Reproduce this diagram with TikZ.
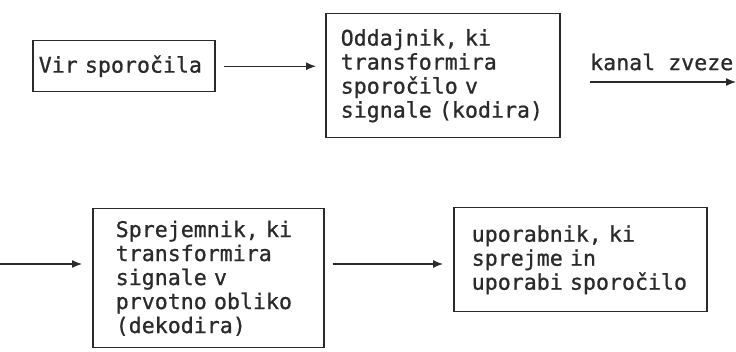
\documentclass[tikz,border=0pt]{standalone}
\usepackage{fontspec}
\newfontfamily\dmono[FakeBold=0.8]{DejaVu Sans Mono}
\usetikzlibrary{arrows.meta}
\definecolor{ink}{HTML}{2A2A2A}
\tikzset{
  box/.style={draw=ink, line width=1.5pt, rectangle, anchor=north west, align=left,
    inner ysep=0pt, text=ink, font=\dmono\fontsize{21.6}{24}\selectfont},
  conn/.style={draw=ink, line width=1.3pt, -{Latex[length=10pt,width=8pt]}},
  lbl/.style={text=ink, font=\dmono\fontsize{21.6}{24}\selectfont, inner sep=0pt}
}
\begin{document}
\begin{tikzpicture}[x=1pt,y=-1pt]
\useasboundingbox (0,0) rectangle (736,352);
\node[box, inner xsep=6pt, text width=170pt, minimum height=51pt] (vir) at (32,40) {\mbox{Vir sporočila}};
\node[box, inner xsep=15pt, text width=204pt, minimum height=124pt] (odd) at (325,13)
  {\mbox{Oddajnik, ki}\\transformira\\\mbox{sporočilo v}\\\mbox{signale (kodira)}};
\node[box, inner xsep=23pt, text width=185pt, minimum height=139pt] (spr) at (92,208)
  {\mbox{Sprejemnik, ki}\\transformira\\\mbox{signale v}\\\mbox{prvotno obliko}\\(dekodira)};
\node[box, inner xsep=18pt, text width=217pt, minimum height=104pt] (upo) at (453,207)
  {\mbox{uporabnik, ki}\\\mbox{sprejme in}\\\mbox{uporabi sporočilo}};
\node[lbl, anchor=west] (kanal) at (590,62) {kanal zveze};
\coordinate (k1) at (590,82);
\coordinate (k2) at (736,82);
\coordinate (r2) at (0,264);
\draw[conn, shorten <=8pt, shorten >=9pt] (vir.east) -- (vir.east -| odd.west);
\draw[conn] (k1) -- (k2);
\draw[conn, shorten >=10pt] (r2) -- (r2 -| spr.west);
\draw[conn, shorten <=8pt, shorten >=10pt] (spr.east |- r2) -- (upo.west |- r2);
\end{tikzpicture}
\end{document}
